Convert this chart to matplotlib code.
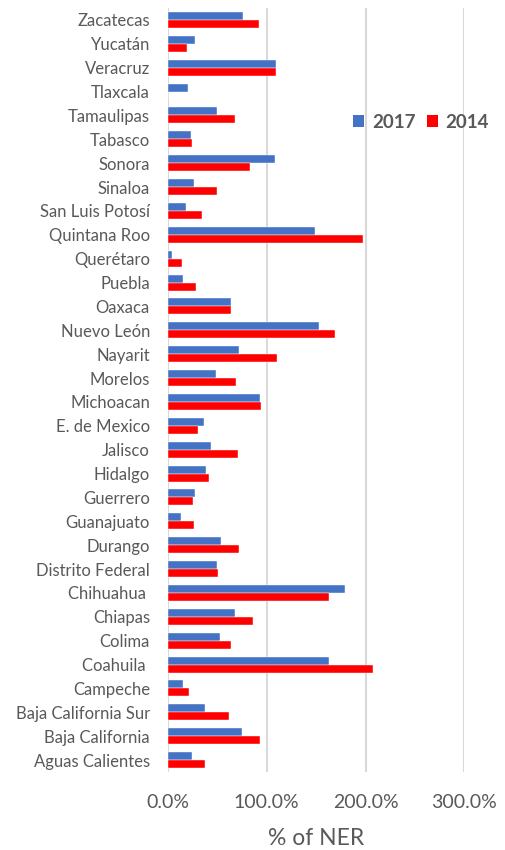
import matplotlib
matplotlib.use("Agg")
import matplotlib.pyplot as plt
import numpy as np
from matplotlib.patches import Patch

states = [
    "Aguas Calientes", "Baja California", "Baja California Sur", "Campeche",
    "Coahuila ", "Colima", "Chiapas", "Chihuahua ", "Distrito Federal",
    "Durango", "Guanajuato", "Guerrero", "Hidalgo", "Jalisco", "E. de Mexico",
    "Michoacan", "Morelos", "Nayarit", "Nuevo León", "Oaxaca", "Puebla",
    "Querétaro", "Quintana Roo", "San Luis Potosí", "Sinaloa", "Sonora",
    "Tabasco", "Tamaulipas", "Tlaxcala", "Veracruz", "Yucatán", "Zacatecas",
]
ner_2017 = [
    24.7, 75.0, 37.2, 15.5, 163.5, 52.4, 67.6, 179.7, 49.7, 53.4, 13.5, 27.0,
    38.9, 43.9, 36.1, 93.6, 48.6, 72.3, 152.7, 63.9, 14.9, 4.1, 149.3, 17.9,
    26.4, 108.8, 23.0, 49.7, 20.6, 109.5, 27.0, 75.7,
]
ner_2014 = [
    37.2, 93.2, 61.8, 20.9, 207.4, 63.9, 85.8, 162.8, 50.7, 71.6, 26.4, 25.3,
    41.2, 70.6, 30.1, 93.9, 69.3, 110.1, 168.9, 63.5, 28.0, 14.2, 197.3, 34.5,
    49.3, 82.8, 24.3, 67.9, 0.0, 109.8, 19.6, 92.2,
]
x_ticks = [0, 100, 200, 300]
series_names = ["2017", "2014"]

BLUE = "#4472C4"
RED = "#FF0000"
GREY_TEXT = "#595959"
GRID = "#D9D9D9"

plt.rcParams["font.family"] = ["Lato", "DejaVu Sans"]

fig = plt.figure(figsize=(5.05, 8.5), dpi=100)
ax = fig.add_axes([168 / 505, 78 / 850, (464.3 - 168) / 505, (772 - 8) / 850])

y = np.arange(len(states))
h = 0.335
ax.barh(y + h / 2, ner_2017, height=h, color=BLUE, edgecolor="white",
        linewidth=0.3, zorder=3)
ax.barh(y - h / 2, ner_2014, height=h, color=RED, edgecolor="white",
        linewidth=0.3, zorder=3)

ax.set_xlim(0, 300)
ax.set_ylim(-0.5, len(states) - 0.5)
ax.set_yticks(y)
ax.set_yticklabels(states, fontsize=12, color=GREY_TEXT)
ax.set_xticks(x_ticks)
ax.set_xticklabels([f"{v:.1f}%" for v in x_ticks], fontsize=14, color=GREY_TEXT)
ax.tick_params(axis="y", length=0, pad=13)
ax.tick_params(axis="x", length=0, pad=16)

for v in x_ticks:
    ax.axvline(v, color=GRID, linewidth=1.5, zorder=1)
for s in ax.spines.values():
    s.set_visible(False)

ax.set_xlabel("% of NER", fontsize=16.5, color=GREY_TEXT, labelpad=12)

handles = [Patch(facecolor=BLUE), Patch(facecolor=RED)]
fig.legend(handles, series_names, loc="center", ncol=2,
           bbox_to_anchor=(421 / 505, 1 - 122 / 850), frameon=False,
           prop={"weight": "bold", "size": 13.5}, labelcolor=GREY_TEXT,
           handlelength=0.6, handleheight=0.6, handletextpad=0.4,
           columnspacing=0.6)

fig.savefig("out.png", dpi=100)
